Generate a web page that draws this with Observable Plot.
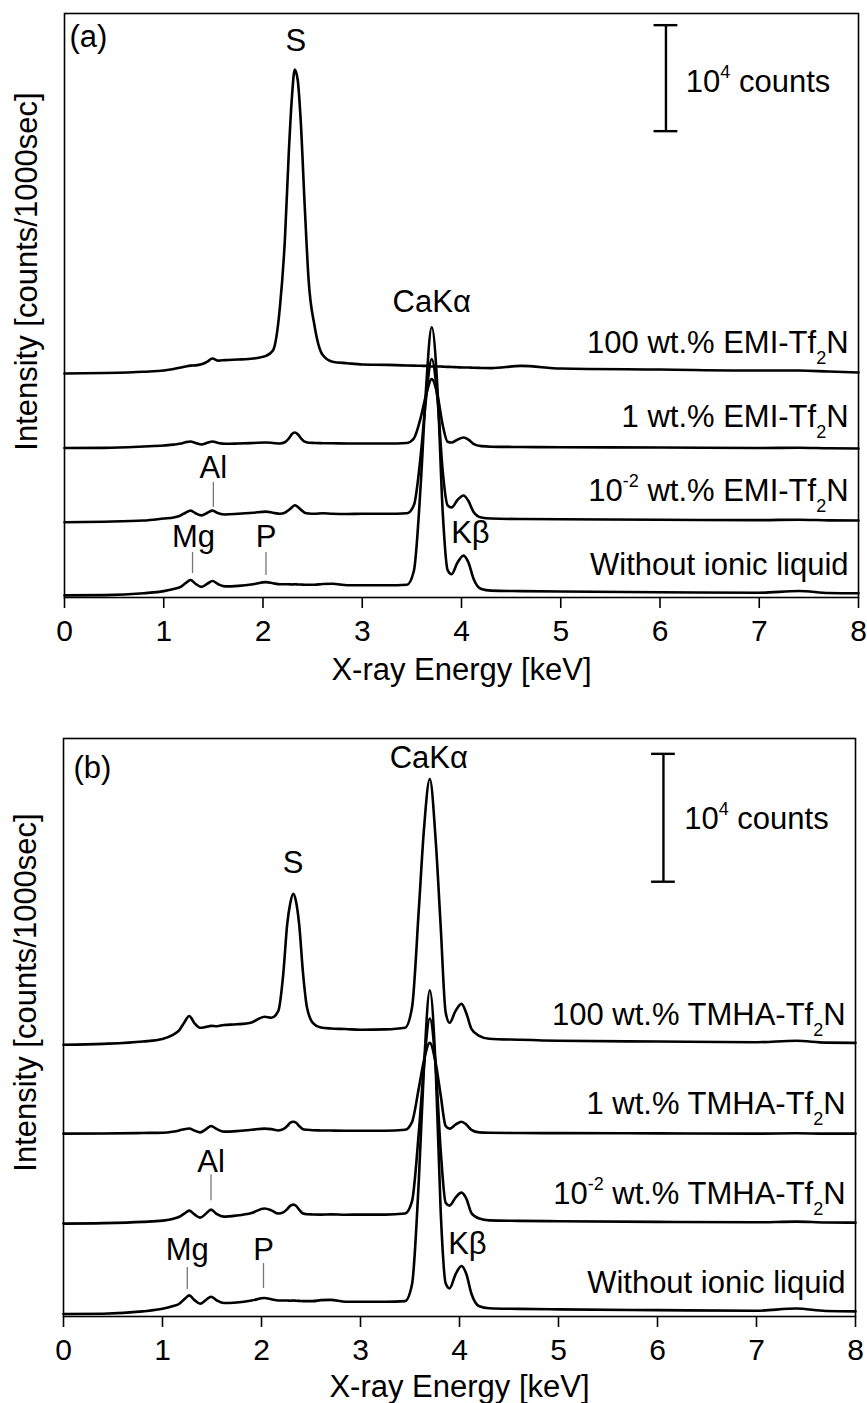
<!DOCTYPE html>
<html><head><meta charset="utf-8">
<script src="https://cdn.jsdelivr.net/npm/d3@7"></script>
<script src="https://cdn.jsdelivr.net/npm/@observablehq/plot@0.6"></script>
<style>
html,body{margin:0;padding:0;background:#fff;}
#chart{width:867px;}
#chart svg{display:block;}
</style></head><body><div id="chart"></div>
<script>
// X-ray energy grid (keV)
const energy = [0, 0.4, 0.8, 1.0, 1.1, 1.17, 1.22, 1.27, 1.32, 1.38, 1.44, 1.49, 1.55, 1.62, 1.75, 1.9, 2.03, 2.1, 2.17, 2.22, 2.26, 2.29, 2.32, 2.35, 2.38, 2.42, 2.46, 2.52, 2.6, 2.7, 2.85, 3.0, 3.25, 3.45, 3.52, 3.59, 3.64, 3.70, 3.76, 3.81, 3.86, 3.9, 3.96, 4.02, 4.07, 4.12, 4.2, 4.3, 4.6, 5, 6, 7, 7.4, 7.7, 8];

// counts / 1000 sec (same reference spectrum in both panels)
const withoutIL = [200, 220, 400, 600, 800, 1000, 1350, 1650, 1300, 1000, 1300, 1550, 1250, 1050, 1100, 1250, 1450, 1350, 1250, 1250, 1250, 1230, 1250, 1230, 1220, 1200, 1200, 1200, 1280, 1300, 1150, 1150, 1150, 1200, 2500, 10800, 19300, 25500, 19300, 8200, 2600, 2200, 3300, 3950, 3300, 1800, 800, 650, 600, 560, 500, 450, 620, 430, 400];

// panel (a): EMI-Tf2N
const emi1e2 = [100, 150, 260, 450, 550, 740, 1000, 1200, 950, 750, 1000, 1200, 950, 830, 900, 1000, 1100, 1000, 900, 1000, 1250, 1500, 1700, 1550, 1300, 1000, 920, 900, 950, 900, 880, 900, 900, 950, 1700, 6500, 11500, 15500, 11500, 5000, 1700, 1500, 2200, 2620, 2100, 1100, 550, 450, 400, 380, 330, 300, 340, 280, 260];
const emi1 = [100, 120, 250, 340, 420, 520, 650, 720, 580, 430, 600, 720, 580, 500, 530, 580, 620, 580, 530, 650, 1000, 1400, 1570, 1400, 1050, 700, 600, 580, 560, 550, 530, 530, 530, 580, 1000, 3000, 5000, 6600, 5000, 2300, 700, 620, 900, 1090, 900, 500, 280, 230, 200, 180, 150, 100, 130, 80, 60];
const emi100 = [130, 180, 300, 415, 560, 700, 800, 880, 900, 1000, 1250, 1550, 1350, 1400, 1450, 1550, 1800, 2300, 6360, 12670, 21000, 26000, 28800, 27800, 24000, 16000, 8900, 4600, 1900, 1250, 1100, 980, 950, 890, 880, 860, 850, 800, 800, 780, 760, 750, 720, 700, 700, 680, 660, 640, 850, 600, 510, 415, 420, 320, 230];

// panel (b): TMHA-Tf2N
const tmha1e2 = [265, 300, 400, 500, 620, 800, 1050, 1280, 1000, 730, 1050, 1360, 1000, 810, 900, 1100, 1440, 1300, 1050, 1150, 1400, 1650, 1750, 1650, 1350, 1050, 1000, 980, 970, 990, 960, 970, 970, 1050, 2000, 7500, 12500, 16300, 12500, 6000, 1900, 1670, 2300, 2690, 2200, 1100, 660, 520, 480, 450, 400, 370, 420, 350, 340];
const tmha1 = [300, 310, 350, 375, 450, 550, 650, 700, 550, 400, 650, 900, 650, 460, 500, 600, 690, 650, 550, 650, 900, 1150, 1230, 1150, 900, 650, 600, 560, 550, 540, 530, 530, 530, 600, 1200, 3900, 6000, 7400, 5800, 3300, 900, 690, 1000, 1230, 1000, 600, 400, 370, 350, 340, 320, 300, 330, 300, 300];
const tmha100 = [250, 320, 500, 700, 1000, 1400, 2000, 2500, 1970, 1580, 1650, 1730, 1700, 1800, 1850, 2000, 2440, 2360, 2900, 5800, 9700, 11300, 12050, 11400, 9700, 5800, 3140, 1950, 1600, 1520, 1480, 1420, 1450, 1580, 3140, 10950, 17000, 21030, 16180, 9500, 2800, 1970, 2900, 3450, 2700, 1500, 950, 720, 640, 560, 500, 450, 560, 420, 400];

// vertical stacking offsets (counts), bottom to top
const offsets = [0, 7000, 14000, 21000];
const labelsA = ["Without ionic liquid", "10^{-2} wt.% EMI-Tf_{2}N", "1 wt.% EMI-Tf_{2}N", "100 wt.% EMI-Tf_{2}N"];
const labelsB = ["Without ionic liquid", "10^{-2} wt.% TMHA-Tf_{2}N", "1 wt.% TMHA-Tf_{2}N", "100 wt.% TMHA-Tf_{2}N"];
const xTicks = [0, 1, 2, 3, 4, 5, 6, 7, 8];

// peak annotations
const peaksA = [
  {t: "S", x: 2.33, y: 51600}, {t: "CaKα", x: 3.70, y: 26900}, {t: "Al", x: 1.50, y: 11320},
  {t: "Mg", x: 1.30, y: 4720}, {t: "P", x: 2.03, y: 4720}, {t: "Kβ", x: 4.09, y: 5100}
];
const markersA = [{x: 1.50, y1: 8490, y2: 10850}, {x: 1.29, y1: 2260, y2: 4250}, {x: 2.03, y1: 2075, y2: 4250}];
const peaksB = [
  {t: "S", x: 2.32, y: 34690}, {t: "CaKα", x: 3.69, y: 42890}, {t: "Al", x: 1.49, y: 11330},
  {t: "Mg", x: 1.25, y: 4450}, {t: "P", x: 2.02, y: 4450}, {t: "Kβ", x: 4.08, y: 4920}
];
const markersB = [{x: 1.49, y1: 9060, y2: 11090}, {x: 1.25, y1: 2110, y2: 3830}, {x: 2.02, y1: 2190, y2: 4140}];

const FONT = "'Liberation Sans', Arial, Helvetica, sans-serif";

function richText(svg) {
  d3.select(svg).selectAll("text").each(function() {
    const s = this.textContent;
    if (!/[\^_]\{/.test(s)) return;
    const el = d3.select(this);
    el.text(null);
    const re = /([\^_])\{([^}]*)\}|([^\^_]+)/g;
    let m, shift = 0;
    while ((m = re.exec(s))) {
      if (m[3] !== undefined) {
        el.append("tspan").attr("dy", 0 - shift).text(m[3]);
        shift = 0;
      } else {
        const d = m[1] === "^" ? -14 : 11;
        el.append("tspan").attr("dy", d - shift).attr("font-size", 18).text(m[2]);
        shift = d;
      }
    }
  });
}

function panel(cfg) {
  const data = cfg.traces.flatMap((vals, k) => energy.map((e, i) => ({e, v: vals[i] + offsets[k], k})));
  const labels = cfg.labels.map((t, k) => ({t, x: 7.9, y: offsets[k] + cfg.labelLift}));
  const bar = [{x: cfg.bar.x, y1: cfg.bar.y1, y2: cfg.bar.y1 + 10000}];
  const caps = [cfg.bar.y1, cfg.bar.y1 + 10000].map(y => ({y, x1: cfg.bar.x - 0.12, x2: cfg.bar.x + 0.12}));
  const svg = Plot.plot({
    width: 867, height: cfg.height,
    marginTop: cfg.mt, marginBottom: cfg.mb, marginLeft: cfg.ml, marginRight: cfg.mr,
    style: {fontFamily: FONT, fontSize: "30px", color: "#000", background: "#fff", overflow: "visible"},
    x: {domain: [0, 8]},
    y: {domain: [0, cfg.ymax], axis: null},
    marks: [
      Plot.frame({stroke: "#000", strokeWidth: 1.6}),
      Plot.axisX({ticks: xTicks, tickSize: 11, tickPadding: 11, tickFormat: d => String(d), label: null, strokeWidth: 1.6}),
      Plot.ruleX(cfg.markers, {x: "x", y1: "y1", y2: "y2", stroke: "#777", strokeWidth: 1.3}),
      Plot.line(data, {x: "e", y: "v", z: "k", stroke: "#000", strokeWidth: 2.6, curve: "monotone-x"}),
      Plot.ruleX(bar, {x: "x", y1: "y1", y2: "y2", stroke: "#000", strokeWidth: 2.4}),
      Plot.ruleY(caps, {y: "y", x1: "x1", x2: "x2", stroke: "#000", strokeWidth: 2.4}),
      Plot.text(["10^{4} counts"], {x: cfg.barText.x, y: cfg.barText.y, textAnchor: "start", lineAnchor: "bottom", fontSize: 31}),
      Plot.text(labels, {x: "x", y: "y", text: "t", textAnchor: "end", lineAnchor: "bottom", fontSize: 31}),
      Plot.text(cfg.peaks, {x: "x", y: "y", text: "t", textAnchor: "middle", lineAnchor: "bottom", fontSize: 31}),
      Plot.text([cfg.tag], {frameAnchor: "top-left", dx: cfg.tagDx, dy: cfg.tagDy, textAnchor: "start", lineAnchor: "bottom", fontSize: 31}),
      Plot.text(["X-ray Energy [keV]"], {frameAnchor: "bottom", dy: cfg.xlabDy, textAnchor: "middle", lineAnchor: "bottom", fontSize: 31}),
      Plot.text(["Intensity [counts/1000sec]"], {frameAnchor: "left", rotate: -90, dx: -37, dy: cfg.ylabDy, textAnchor: "middle", lineAnchor: "middle", fontSize: 31})
    ]
  });
  richText(svg);
  return svg;
}

const root = document.getElementById("chart");
root.appendChild(panel({
  height: 690, mt: 13, mb: 93, ml: 64, mr: 9, ymax: 55100,
  traces: [withoutIL, emi1e2, emi1, emi100], labels: labelsA, labelLift: 2100,
  bar: {x: 6.06, y1: 44000}, barText: {x: 6.26, y: 47700},
  peaks: peaksA, markers: markersA,
  tag: "(a)", tagDx: 5, tagDy: 33, xlabDy: 82, ylabDy: -34
}));
root.appendChild(panel({
  height: 713, mt: 48, mb: 87, ml: 63, mr: 12, ymax: 45200,
  traces: [withoutIL, tmha1e2, tmha1, tmha100], labels: labelsB, labelLift: 1800,
  bar: {x: 6.06, y1: 34000}, barText: {x: 6.27, y: 38100},
  peaks: peaksB, markers: markersB,
  tag: "(b)", tagDx: 10, tagDy: 39, xlabDy: 80, ylabDy: -35
}));
</script></body></html>
